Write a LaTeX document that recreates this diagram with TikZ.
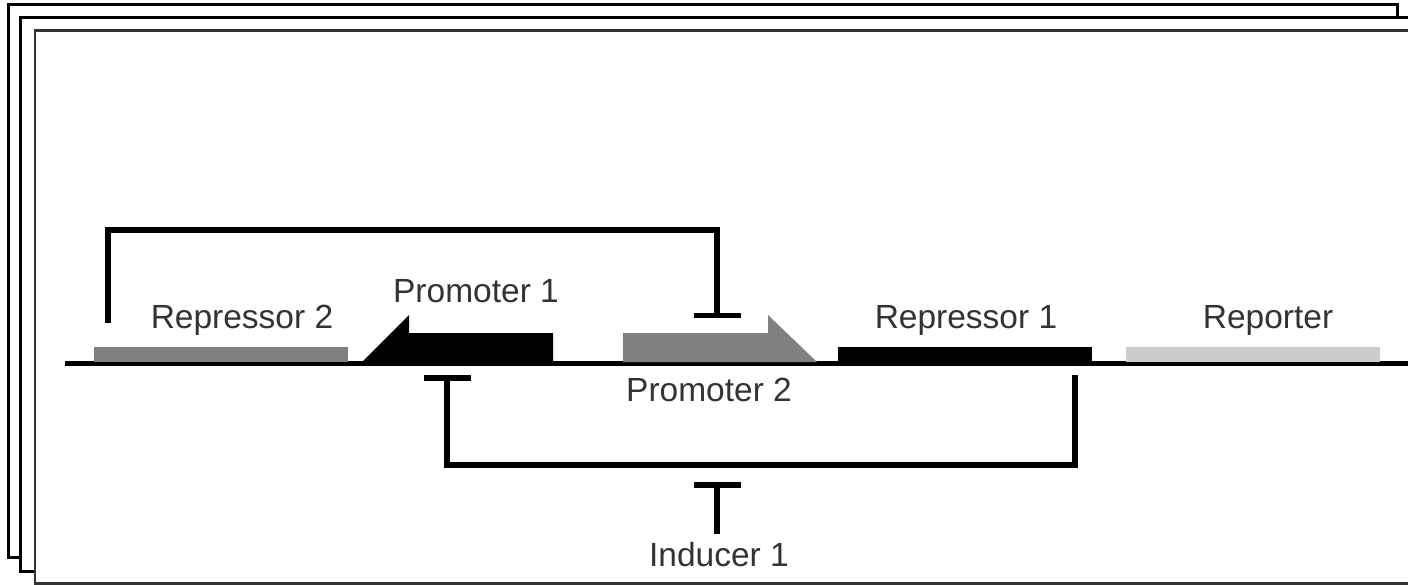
\documentclass[tikz,border=0pt]{standalone}
\usepackage{fontspec}
\setmainfont{Liberation Sans}
\usepackage{tikz}
\usetikzlibrary{arrows.meta}

\begin{document}
\begin{tikzpicture}[x=1pt,y=-1pt,
		repress/.style={line width=5.5pt,-{Bar[width=47pt]}}]
		\useasboundingbox (0,0) rectangle (1408,584);
		\clip (0,0) rectangle (1408,584);

		\draw[line width=3pt,fill=white] (8.5,4.5) rectangle (1397.5,557);
		\draw[line width=3pt,fill=white] (20.5,17) rectangle (1430,571);
		\draw[line width=2.5pt,draw=black!80,fill=white] (35,30.5) rectangle (1430,583.5);

		\coordinate (dnastart) at (65,363);
		\coordinate (dnaend) at (1408,363);
		\draw[line width=5pt] (dnastart) -- (dnaend);

		\begin{scope}[every node/.style={rectangle,inner sep=0pt,minimum height=15pt,minimum width=254pt}]
			\node[fill=gray] (rep2) at (221,354.5) {};
			\node[fill=black] (rep1) at (965,354.5) {};
			\node[fill=gray!40] (rep) at (1253,354.5) {};
		\end{scope}

		\fill[black] (362,362) -- (409,315) -- (409,333) -- (553,333) -- (553,362) -- cycle;
		\fill[gray] (623,333) -- (768,333) -- (768,315) -- (817,362) -- (623,362) -- cycle;

		\begin{scope}[every node/.style={font=\fontsize{33.5}{40}\selectfont,inner sep=0pt,anchor=base,text=black!80}]
			\node (rep2lbl) at (242,328) {Repressor 2};
			\node (p1lbl) at (476,302) {Promoter 1};
			\node (p2lbl) at (709,401) {Promoter 2};
			\node (rep1lbl) at (966,328) {Repressor 1};
			\node (replbl) at (1268,328) {Reporter};
			\node (indlbl) at (719,566) {Inducer 1};
		\end{scope}

		\coordinate (r2out) at (108,323);
		\coordinate (p2in) at (717,318);
		\coordinate (r1out) at (1075,375);
		\coordinate (p1in) at (447,375);
		\coordinate (indout) at (717,534);
		\coordinate (indin) at (717,482);

		\begin{scope}
			\draw[repress] (r2out) -- ++(0,-93) -| (p2in);
			\draw[repress] (r1out) -- ++(0,90) -| (p1in);
			\draw[repress] (indout) -- (indin);
		\end{scope}
		\end{tikzpicture}
\end{document}
